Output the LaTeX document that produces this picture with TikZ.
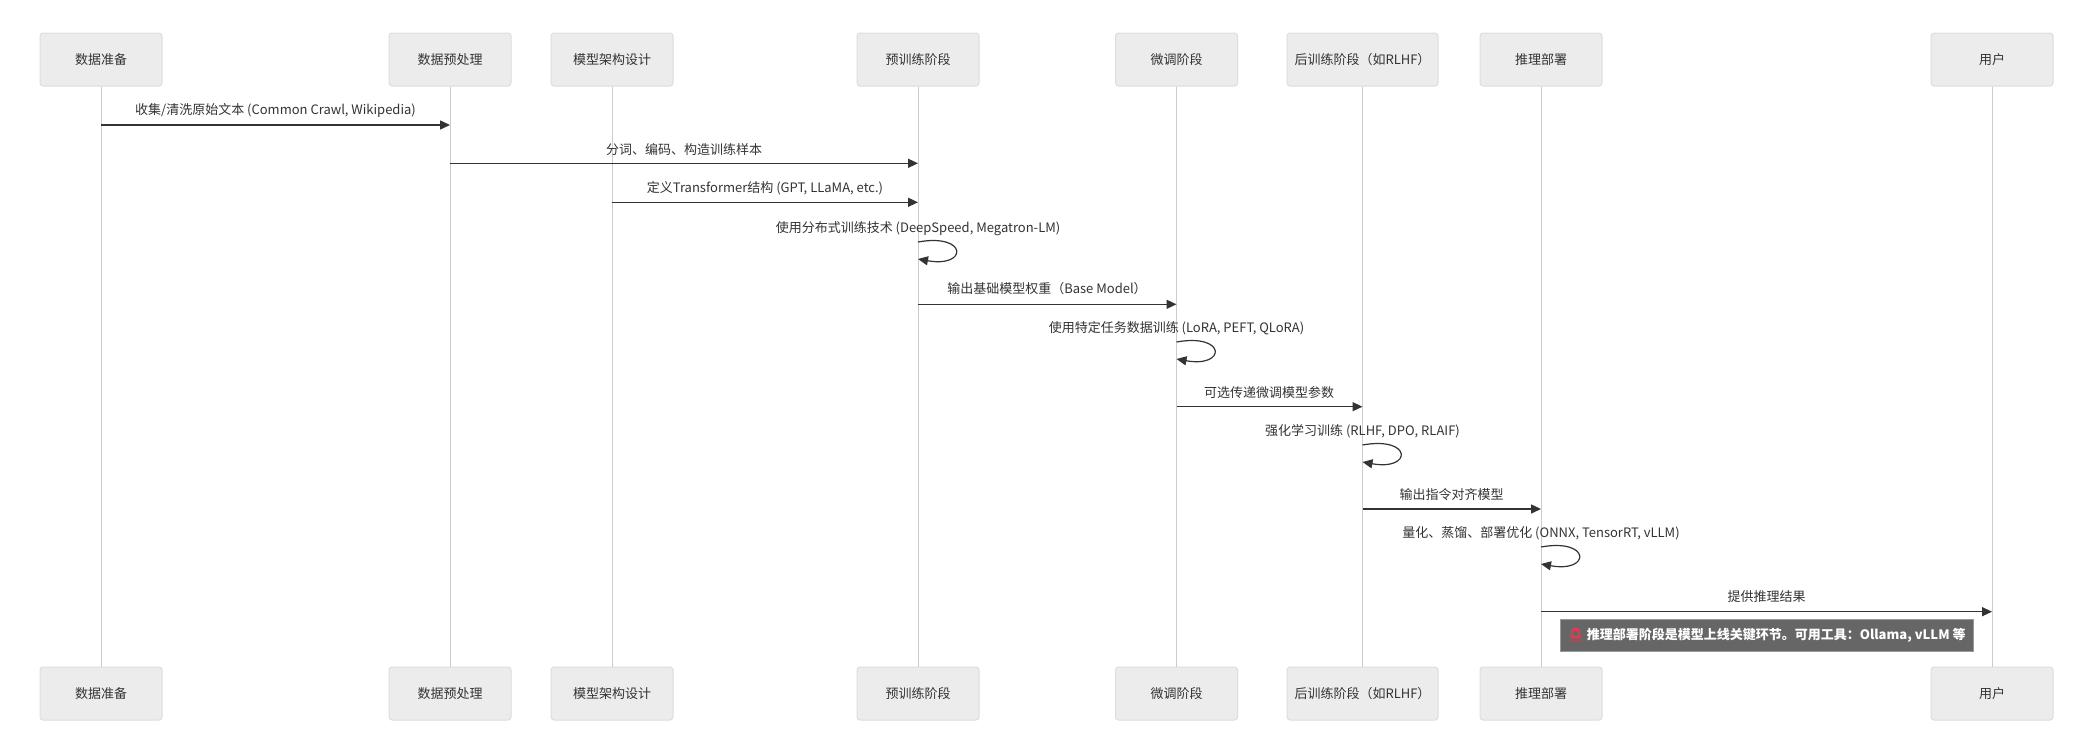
\documentclass[tikz,border=0pt]{standalone}
\usepackage{fontspec}
\setmainfont{Noto Sans CJK SC}
\newfontfamily\emo{Noto Emoji}
\usetikzlibrary{arrows.meta}
\definecolor{boxfill}{HTML}{ECECEC}
\definecolor{boxline}{HTML}{DDDDDD}
\definecolor{lifecol}{HTML}{CCCCCC}
\definecolor{msgcol}{HTML}{333333}
\definecolor{txtcol}{HTML}{333333}
\definecolor{notefill}{HTML}{666666}
\definecolor{noteline}{HTML}{999999}
\definecolor{siren}{HTML}{E8384F}
\begin{document}
\begin{tikzpicture}[x=1pt,y=-1pt,
  font=\fontsize{13}{15}\selectfont,
  actor/.style={draw=boxline, fill=boxfill, rounded corners=3pt, line width=1pt,
    minimum width=122pt, minimum height=53pt, inner sep=0pt, text=txtcol},
  life/.style={draw=lifecol, line width=1pt},
  msgline/.style={draw=msgcol, line width=1.5pt, -{Triangle[length=10pt,width=9pt]}},
  loopline/.style={draw=msgcol, line width=1.2pt, -{Triangle[length=10pt,width=9pt]}},
  lbl/.style={text=txtcol, inner sep=0pt},
  notebox/.style={fill=notefill, draw=noteline, line width=1pt, minimum width=413pt,
    minimum height=32pt, inner sep=0pt, text=white, font=\fontsize{13}{15}\selectfont\bfseries}]
\fill[white] (0,0) rectangle (2094,734);
\useasboundingbox (0,0) rectangle (2094,734);

% actors top
\node[actor] (t1) at (101,59.5) {数据准备};
\node[actor] (t2) at (450,59.5) {数据预处理};
\node[actor] (t3) at (612,59.5) {模型架构设计};
\node[actor] (t4) at (918,59.5) {预训练阶段};
\node[actor] (t5) at (1176.5,59.5) {微调阶段};
\node[actor, minimum width=151pt] (t6) at (1362.5,59.5) {后训练阶段（如RLHF）};
\node[actor] (t7) at (1541,59.5) {推理部署};
\node[actor] (t8) at (1992,59.5) {用户};
% actors bottom
\node[actor] (b1) at (101,693.5) {数据准备};
\node[actor] (b2) at (450,693.5) {数据预处理};
\node[actor] (b3) at (612,693.5) {模型架构设计};
\node[actor] (b4) at (918,693.5) {预训练阶段};
\node[actor] (b5) at (1176.5,693.5) {微调阶段};
\node[actor, minimum width=151pt] (b6) at (1362.5,693.5) {后训练阶段（如RLHF）};
\node[actor] (b7) at (1541,693.5) {推理部署};
\node[actor] (b8) at (1992,693.5) {用户};

% lifelines
\foreach \i in {1,...,8} { \draw[life] (t\i) -- (b\i); }

% messages
\node[lbl] (l1) at (275.5,110) {收集/清洗原始文本 (Common Crawl, Wikipedia)};
\draw[msgline] (t1 |- 0,125) -- (t2 |- 0,125);

\node[lbl] (l2) at (684,149.3) {分词、编码、构造训练样本};
\draw[msgline] (t2 |- 0,163.3) -- (t4 |- 0,163.3);

\node[lbl] (l3) at (765,188.3) {定义Transformer结构 (GPT, LLaMA, etc.)};
\draw[msgline] (t3 |- 0,202.3) -- (t4 |- 0,202.3);

\node[lbl] (l4) at (918,228.7) {使用分布式训练技术 (DeepSpeed, Megatron-LM)};
\draw[loopline] (t4 |- 0,242) .. controls +(50,-9) and +(50,9) .. (t4 |- 0,259);

\node[lbl] (l5) at (1047,289) {输出基础模型权重（Base Model）};
\draw[msgline] (t4 |- 0,304.3) -- (t5 |- 0,304.3);

\node[lbl] (l6) at (1176.5,328.3) {使用特定任务数据训练 (LoRA, PEFT, QLoRA)};
\draw[loopline] (t5 |- 0,342) .. controls +(50,-9) and +(50,9) .. (t5 |- 0,359);

\node[lbl] (l7) at (1269,392.3) {可选传递微调模型参数};
\draw[msgline] (t5 |- 0,406.7) -- (t6 |- 0,406.7);

\node[lbl] (l8) at (1362.5,431.7) {强化学习训练 (RLHF, DPO, RLAIF)};
\draw[loopline] (t6 |- 0,445) .. controls +(50,-9) and +(50,9) .. (t6 |- 0,462);

\node[lbl] (l9) at (1451.5,494.3) {输出指令对齐模型};
\draw[msgline] (t6 |- 0,509) -- (t7 |- 0,509);

\node[lbl] (l10) at (1541,533.3) {量化、蒸馏、部署优化 (ONNX, TensorRT, vLLM)};
\draw[loopline] (t7 |- 0,547) .. controls +(50,-9) and +(50,9) .. (t7 |- 0,564);

\node[lbl] (l11) at (1766.5,596.7) {提供推理结果};
\draw[msgline] (t7 |- 0,611.7) -- (t8 |- 0,611.7);

% note
\node[notebox] (n1) at (1766.5,635) {{\color{siren}\emo 🚨}\ 推理部署阶段是模型上线关键环节。可用工具：Ollama, vLLM 等};
\end{tikzpicture}
\end{document}
